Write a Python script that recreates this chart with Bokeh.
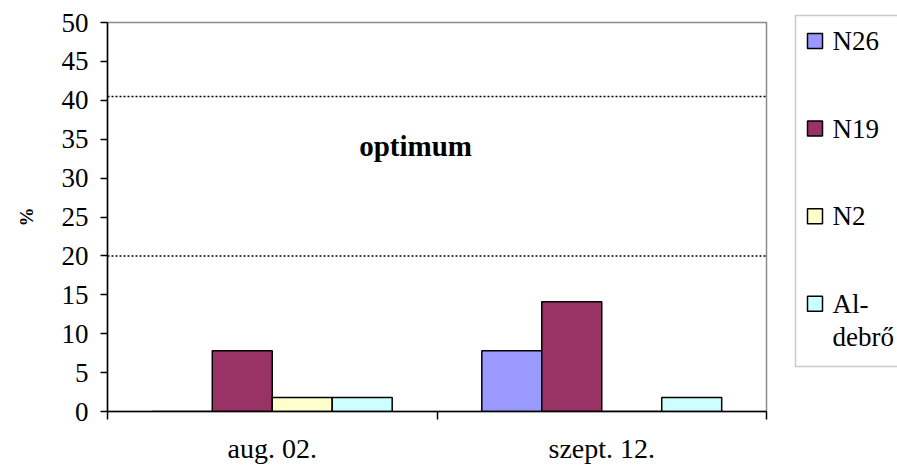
from bokeh.plotting import figure
from bokeh.layouts import row
from bokeh.models import (ColumnDataSource, FixedTicker, Span, Label,
                          BoxAnnotation, Range1d)
from bokeh.transform import dodge
from bokeh.embed import file_html
from bokeh.resources import INLINE

# ---- data ----
dates = ["aug. 02.", "szept. 12."]
series_names = ["N26", "N19", "N2", "Al-\ndebrő"]
n26 = [0.0, 7.8]
n19 = [7.8, 14.1]
n2 = [1.8, 0.0]
aldebro = [1.8, 1.8]
colors = ["#9999FF", "#993366", "#FFFFCC", "#CCFFFF"]
optimum_low = 20
optimum_high = 40.5
optimum_text = "optimum"
y_ticks = list(range(0, 55, 5))

# category positions (numeric axis: category i centred at i + 0.5)
centers = [i + 0.5 for i in range(len(dates))]
boundaries = [float(i) for i in range(len(dates) + 1)]

source = ColumnDataSource(dict(x=centers, N26=n26, N19=n19, N2=n2, Ald=aldebro))
cols = ["N26", "N19", "N2", "Ald"]
offsets = [-0.273, -0.091, 0.091, 0.273]
bar_w = 0.182

FONT = "Liberation Serif"

p = figure(width=780, height=466, output_backend="svg", toolbar_location=None,
           x_range=Range1d(0, len(dates)), y_range=Range1d(0, 50),
           min_border_left=107, min_border_right=14, min_border_top=22,
           min_border_bottom=54)
p.frame_align = False
p.background_fill_color = "white"
p.border_fill_color = "white"
p.outline_line_color = "#8c8c8c"
p.outline_line_width = 1.5
p.xgrid.visible = False
p.ygrid.visible = False

for col, off, c in zip(cols, offsets, colors):
    p.vbar(x=dodge("x", off, range=p.x_range), top=col, width=bar_w,
           source=source, fill_color=c, line_color="black", line_width=1.5)

for yv in (optimum_low, optimum_high):
    p.add_layout(Span(location=yv, dimension="width", line_color="black",
                      line_width=1.5, line_dash="2 2"))

p.add_layout(Label(x=0.935, y=34.1, text=optimum_text, text_align="center",
                   text_baseline="middle", text_font=FONT,
                   text_font_style="bold", text_font_size="29px",
                   text_color="black"))

# axes
xa = p.xaxis[0]
xa.ticker = FixedTicker(ticks=centers, minor_ticks=boundaries)
xa.major_label_overrides = {c: d for c, d in zip(centers, dates)}
xa.major_tick_out = 0
xa.major_tick_in = 0
xa.minor_tick_out = 8
xa.minor_tick_in = 0
xa.minor_tick_line_color = "black"
xa.minor_tick_line_width = 1.5
xa.axis_line_color = "black"
xa.axis_line_width = 1.5
xa.major_label_text_font = FONT
xa.major_label_text_font_size = "28px"
xa.major_label_text_color = "black"
xa.major_label_standoff = 13

ya = p.yaxis[0]
ya.ticker = FixedTicker(ticks=y_ticks, minor_ticks=[])
ya.major_tick_out = 7
ya.major_tick_in = 0
ya.major_tick_line_color = "black"
ya.major_tick_line_width = 1.5
ya.axis_line_color = "black"
ya.axis_line_width = 1.5
ya.major_label_text_font = FONT
ya.major_label_text_font_size = "27px"
ya.major_label_text_color = "black"
ya.major_label_standoff = 12
ya.axis_label = "%"
ya.axis_label_text_font = FONT
ya.axis_label_text_font_style = "bold"
ya.axis_label_text_font_size = "19px"
ya.axis_label_text_color = "black"
ya.axis_label_standoff = 22

# ---- legend panel (separate figure on the right, pixel-like units from the top) ----
q = figure(width=117, height=466, output_backend="svg", toolbar_location=None,
           title=None, x_range=Range1d(0, 117), y_range=Range1d(466, 0),
           min_border_left=0, min_border_right=0, min_border_top=0,
           min_border_bottom=0, x_axis_location=None, y_axis_location=None)
q.frame_align = False
q.outline_line_color = None
q.xgrid.visible = False
q.ygrid.visible = False
q.background_fill_color = "white"
q.border_fill_color = "white"

item_step = 87.6
first_center = 40.5
line_step = 33
swatch_x = 34.5
label_x = 52
item_y = [first_center + item_step * i for i in range(len(series_names))]

leg_src = ColumnDataSource(dict(y=item_y, color=colors))
q.add_layout(BoxAnnotation(left=15, right=200, top=15, bottom=366,
                           fill_alpha=0, line_color="#505050", line_width=1.5))
q.rect(x=swatch_x, y="y", width=15, height=15, source=leg_src,
       fill_color="color", line_color="black", line_width=1.5)
for name, yc in zip(series_names, item_y):
    for k, line in enumerate(name.split("\n")):
        q.add_layout(Label(x=label_x, y=yc + k * line_step, text=line,
                           text_align="left", text_baseline="middle",
                           text_font=FONT, text_font_size="27px",
                           text_color="black"))

layout = row(p, q, spacing=0)
open("out.html", "w").write(file_html(layout, INLINE))
